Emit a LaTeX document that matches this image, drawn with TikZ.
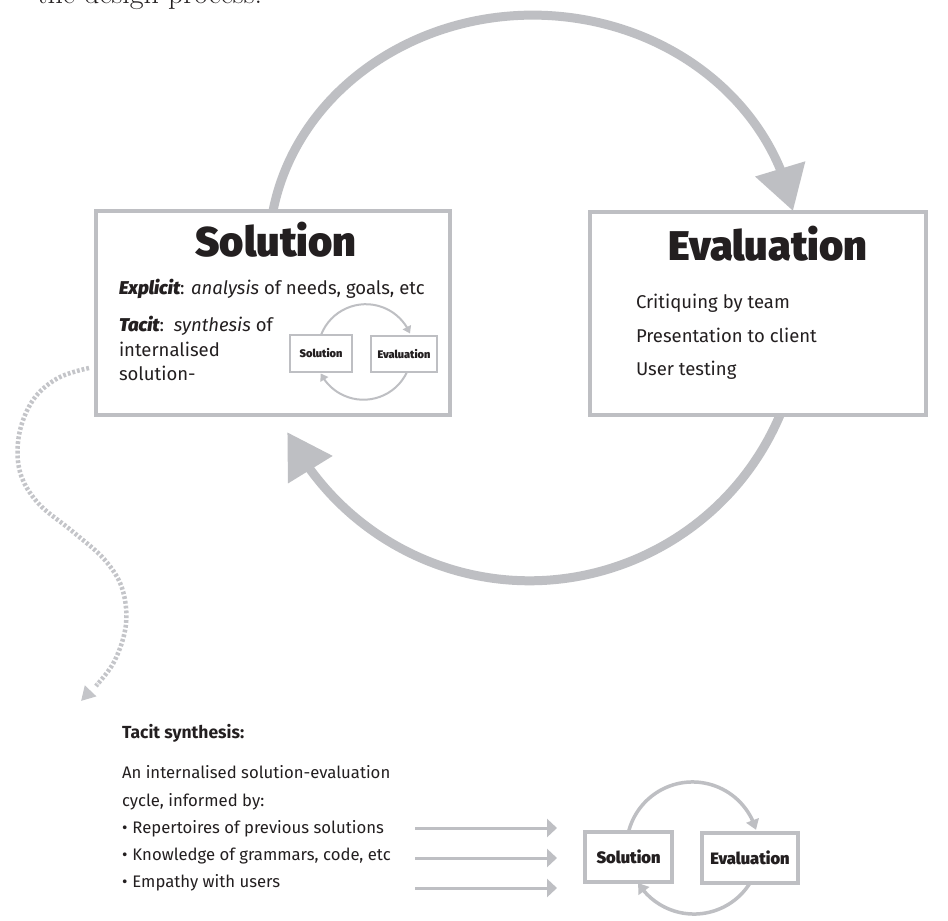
\documentclass[tikz,border=0pt]{standalone}
\usepackage{fontspec}
\setsansfont{Fira Sans}
\IfFontExistsTF{Fira Sans Black}{\newfontfamily\heavyfont{Fira Sans Black}}{%
 \IfFontExistsTF{FiraSans-Black.otf}{\newfontfamily\heavyfont{FiraSans-Black.otf}}{%
  \IfFontExistsTF{FiraSans-Heavy.otf}{\newfontfamily\heavyfont{FiraSans-Heavy.otf}}{%
   \IfFontExistsTF{Fira Sans ExtraBold}{\newfontfamily\heavyfont{Fira Sans ExtraBold}}{%
    \IfFontExistsTF{Lato Black}{\newfontfamily\heavyfont{Lato Black}}{%
     \newcommand\heavyfont{\sffamily\bfseries}}}}}}
\IfFontExistsTF{Fira Sans Black Italic}{\newfontfamily\heavyitfont{Fira Sans Black Italic}}{%
 \IfFontExistsTF{FiraSans-BlackItalic.otf}{\newfontfamily\heavyitfont{FiraSans-BlackItalic.otf}}{%
  \IfFontExistsTF{FiraSans-HeavyItalic.otf}{\newfontfamily\heavyitfont{FiraSans-HeavyItalic.otf}}{%
   \IfFontExistsTF{Fira Sans ExtraBold Italic}{\newfontfamily\heavyitfont{Fira Sans ExtraBold Italic}}{%
    \newcommand\heavyitfont{\sffamily\bfseries\itshape}}}}}
\usetikzlibrary{arrows.meta,bending}
\definecolor{ink}{RGB}{35,31,32}
\definecolor{boxgray}{RGB}{190,191,195}
\definecolor{dotgray}{RGB}{196,197,201}
\begin{document}
\begin{tikzpicture}[x=1pt,y=-1pt,
  every node/.style={inner sep=0pt,outer sep=0pt,text=ink},
  bigbox/.style={draw=boxgray,line width=4.5pt},
  smallbox/.style={draw=boxgray,line width=2.2pt},
  midbox/.style={draw=boxgray,line width=3.5pt},
  cyclearc/.style={draw=boxgray,line width=9pt,-{Triangle[length=44pt,width=50pt]}},
  smallarc/.style={draw=boxgray,line width=2pt,-{Triangle[length=7pt,width=9pt]}},
  midarc/.style={draw=boxgray,line width=3.5pt,-{Triangle[length=10pt,width=13pt]}},
  feedarrow/.style={draw=boxgray,line width=3pt,-{Triangle[length=10pt,width=18pt]}},
  dotline/.style={draw=dotgray,line width=4.5pt,dash pattern=on 2.8pt off 2pt,-{Triangle[length=14pt,width=15pt]}},
  body/.style={font=\sffamily\fontsize{18.5}{22}\selectfont,anchor=base west},
  lowbody/.style={font=\sffamily\fontsize{16.7}{21}\selectfont,anchor=base west},
  bigtitle/.style={font=\heavyfont\fontsize{41.5}{44}\selectfont,anchor=base},
  smalllabel/.style={font=\heavyfont\fontsize{11}{12}\selectfont},
  midlabel/.style={font=\heavyfont\fontsize{16.5}{18}\selectfont},
]
\useasboundingbox[fill=white] (0,0) rectangle (948,921);

% clipped running text at the top
\node[font=\fontsize{30}{32}\selectfont,anchor=base west] (head) at (37,3) {the design process.};

% main boxes
\node[bigbox,minimum width=354pt,minimum height=204pt] (sol) at (273,313) {};
\node[bigbox,minimum width=336pt,minimum height=203pt] (eval) at (758,313.5) {};

% titles
\node[bigtitle] (soltitle) at (276,256) {Solution};
\node[bigtitle] (evaltitle) at (768,260) {Evaluation};

% solution text
\node[body] (expl) at (119,294) {{\heavyitfont Explicit}: \textit{analysis} of needs, goals, etc};
\node[body] (tac1) at (119,331) {{\heavyitfont Tacit}:\ \ \textit{synthesis} of};
\node[body] (tac2) at (119,356) {internalised};
\node[body] (tac3) at (119,380) {solution-};

% evaluation text
\node[body] (ev1) at (636,308) {Critiquing by team};
\node[body] (ev2) at (636,342) {Presentation to client};
\node[body] (ev3) at (636,375) {User testing};

% big cycle arcs
\draw[cyclearc] (sol.north) arc[start angle=170,end angle=10,x radius=264pt,y radius=237pt];
\draw[cyclearc] ([xshift=22pt]eval.south) arc[start angle=-23,end angle=-153,radius=272pt];

% small cycle inside the solution box
\node[smallbox,smalllabel,minimum width=62pt,minimum height=37pt] (ssol) at (321,353.5) {Solution};
\node[smallbox,smalllabel,minimum width=66pt,minimum height=36pt] (seval) at (404,354) {Evaluation};
\draw[smallarc] (ssol.north) arc[start angle=159,end angle=23,radius=48pt];
\draw[smallarc] ([xshift=3pt]seval.south) arc[start angle=-25,end angle=-153,radius=48pt];

% dotted connector
\coordinate (dstart) at (89,368);
\coordinate (dend) at (81,701);
\draw[dotline] plot[smooth,tension=0.6] coordinates {(dstart) (58,378) (33,400) (19,435) (20,472) (38,503) (72,531) (104,559) (122,588) (126,624) (115,660) (96,686) (dend)};

% tacit synthesis text
\node[font=\sffamily\bfseries\fontsize{17.5}{21}\selectfont,anchor=base west] (tsh) at (122,738) {Tacit synthesis:};
\node[lowbody] (t1) at (122,778) {An internalised solution-evaluation};
\node[lowbody] (t2) at (122,806) {cycle, informed by:};
\node[lowbody] (b1) at (122,833) {\textbullet\hspace{5pt}Repertoires of previous solutions};
\node[lowbody] (b2) at (122,860) {\textbullet\hspace{5pt}Knowledge of grammars, code, etc};
\node[lowbody] (b3) at (122,887) {\textbullet\hspace{5pt}Empathy with users};

% feeding arrows
\coordinate (a1s) at (415,828); \coordinate (a1e) at (557,828);
\coordinate (a2s) at (415,858); \coordinate (a2e) at (557,858);
\coordinate (a3s) at (415,888); \coordinate (a3e) at (557,888);
\draw[feedarrow] (a1s) -- (a1e);
\draw[feedarrow] (a2s) -- (a2e);
\draw[feedarrow] (a3s) -- (a3e);

% bottom cycle
\node[midbox,midlabel,minimum width=87pt,minimum height=50pt] (bsol) at (628.5,857) {Solution};
\node[midbox,midlabel,minimum width=96pt,minimum height=50pt] (beval) at (750,858) {Evaluation};
\draw[midarc] (bsol.north) arc[start angle=166,end angle=16,radius=66pt];
\draw[midarc] (beval.south) arc[start angle=-32,end angle=-148,radius=66pt];
\end{tikzpicture}
\end{document}
